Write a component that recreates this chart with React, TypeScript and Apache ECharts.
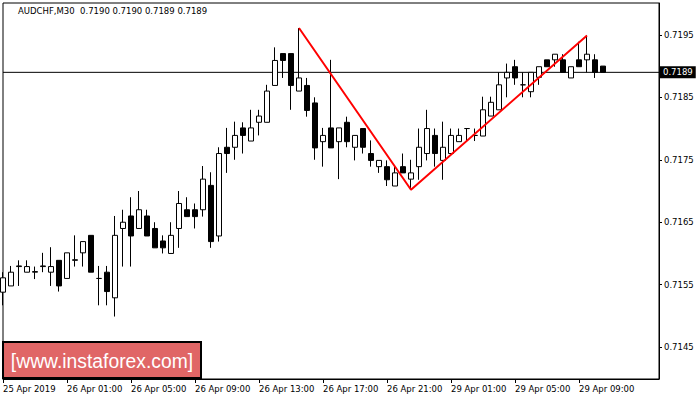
import React, { useEffect, useRef } from 'react';
import * as echarts from 'echarts';

const titleText = 'AUDCHF,M30  0.7190 0.7190 0.7189 0.7189';
const logoText = '[www.instaforex.com]';

const tickLabels = [
  '25 Apr 2019',
  '26 Apr 01:00',
  '26 Apr 05:00',
  '26 Apr 09:00',
  '26 Apr 13:00',
  '26 Apr 17:00',
  '26 Apr 21:00',
  '29 Apr 01:00',
  '29 Apr 05:00',
  '29 Apr 09:00',
];
const barsPerTick = 8;
const totalSlots = 83;

// [open, close, low, high]
const candles: number[][] = [
  [0.71538, 0.71561, 0.71517, 0.7157],
  [0.71548, 0.7157, 0.71548, 0.7158],
  [0.71579, 0.7158, 0.71548, 0.71589],
  [0.7157, 0.71579, 0.7157, 0.71589],
  [0.7157, 0.71571, 0.71559, 0.71579],
  [0.71579, 0.7158, 0.7157, 0.71601],
  [0.7157, 0.71579, 0.71548, 0.7161],
  [0.71589, 0.71548, 0.71539, 0.71589],
  [0.7156, 0.71601, 0.7156, 0.71601],
  [0.71589, 0.7159, 0.71579, 0.71629],
  [0.71601, 0.71619, 0.71579, 0.71619],
  [0.71629, 0.7157, 0.7157, 0.71629],
  [0.7156, 0.7156, 0.71517, 0.7158],
  [0.7157, 0.71539, 0.71517, 0.7158],
  [0.71529, 0.71629, 0.71499, 0.7166],
  [0.7164, 0.7165, 0.71579, 0.7167],
  [0.7166, 0.71628, 0.71579, 0.7169],
  [0.7164, 0.7167, 0.7164, 0.717],
  [0.7166, 0.71628, 0.71628, 0.7167],
  [0.7164, 0.71609, 0.71609, 0.7165],
  [0.7162, 0.71609, 0.716, 0.71629],
  [0.716, 0.71629, 0.716, 0.7165],
  [0.7164, 0.7168, 0.71609, 0.717],
  [0.7167, 0.71659, 0.71659, 0.7169],
  [0.7167, 0.71659, 0.7164, 0.7168],
  [0.7167, 0.71719, 0.71659, 0.7174],
  [0.71709, 0.71619, 0.71609, 0.7173],
  [0.71628, 0.7176, 0.71619, 0.7177],
  [0.7177, 0.7176, 0.71729, 0.71801],
  [0.7177, 0.71789, 0.7175, 0.71811],
  [0.71801, 0.71789, 0.7176, 0.7181],
  [0.7178, 0.71801, 0.7178, 0.7183],
  [0.7181, 0.7182, 0.71789, 0.7183],
  [0.7181, 0.7186, 0.7181, 0.7187],
  [0.71869, 0.71909, 0.71869, 0.7193],
  [0.7192, 0.71909, 0.71881, 0.7192],
  [0.7192, 0.71869, 0.7183, 0.7192],
  [0.7186, 0.71881, 0.7186, 0.71961],
  [0.71869, 0.71829, 0.71819, 0.71881],
  [0.71841, 0.71769, 0.7175, 0.7185],
  [0.71779, 0.71789, 0.71739, 0.71801],
  [0.71801, 0.71769, 0.71769, 0.7191],
  [0.71779, 0.71801, 0.71719, 0.71801],
  [0.7181, 0.71779, 0.7177, 0.71819],
  [0.7177, 0.71789, 0.71749, 0.71789],
  [0.718, 0.7177, 0.7176, 0.718],
  [0.7176, 0.71749, 0.71739, 0.71781],
  [0.71739, 0.71749, 0.71729, 0.71749],
  [0.71739, 0.71718, 0.71708, 0.71749],
  [0.71708, 0.71729, 0.71708, 0.71739],
  [0.71739, 0.71729, 0.71729, 0.7176],
  [0.71719, 0.71729, 0.71702, 0.7175],
  [0.71739, 0.7177, 0.71718, 0.718],
  [0.7176, 0.718, 0.71749, 0.7183],
  [0.71789, 0.7176, 0.71739, 0.718],
  [0.71749, 0.7177, 0.71718, 0.71811],
  [0.7176, 0.71789, 0.7176, 0.718],
  [0.71779, 0.71789, 0.71779, 0.718],
  [0.718, 0.718, 0.7178, 0.718],
  [0.71789, 0.71789, 0.7178, 0.718],
  [0.71788, 0.7183, 0.71788, 0.71851],
  [0.7182, 0.71842, 0.7182, 0.71851],
  [0.7183, 0.7187, 0.7183, 0.7189],
  [0.71881, 0.7189, 0.7185, 0.71904],
  [0.71899, 0.71881, 0.7187, 0.7191],
  [0.7187, 0.7187, 0.7185, 0.7189],
  [0.71859, 0.7189, 0.7185, 0.7189],
  [0.71882, 0.71899, 0.7187, 0.71899],
  [0.7191, 0.71899, 0.71899, 0.7191],
  [0.7191, 0.71919, 0.71899, 0.71919],
  [0.7191, 0.7189, 0.7189, 0.71919],
  [0.71881, 0.71899, 0.71881, 0.71899],
  [0.7191, 0.71899, 0.71899, 0.71939],
  [0.7191, 0.71919, 0.7189, 0.71949],
  [0.7191, 0.7189, 0.71881, 0.71919],
  [0.719, 0.7189, 0.7189, 0.719],
];

const patternIdx = [37, 51, 73];
const patternPrice = [0.71961, 0.71702, 0.71949];
const lastPrice = 0.7189;
const priceTicks = [0.7145, 0.7155, 0.7165, 0.7175, 0.7185, 0.7195];
const yMin = 0.71399;
const yMax = 0.72001;

export default function App() {
  const ref = useRef<HTMLDivElement>(null);
  useEffect(() => {
    if (!ref.current) return;
    const chart = echarts.init(ref.current, null, { renderer: 'svg' });
    const categories = Array.from({ length: totalSlots }, (_, i) =>
      i % barsPerTick === 0 && i / barsPerTick < tickLabels.length ? tickLabels[i / barsPerTick] : ''
    );
    const font = 'DejaVu Sans';
    const fs = 8.5;
    chart.setOption({
      animation: false,
      backgroundColor: '#ffffff',
      grid: {
        left: 3,
        top: 3,
        width: 656,
        height: 376,
        show: true,
        borderColor: '#000',
        borderWidth: 1,
        backgroundColor: 'transparent',
      },
      xAxis: {
        type: 'category',
        data: categories,
        boundaryGap: false,
        axisLine: { show: true, lineStyle: { color: '#000', width: 1 } },
        axisTick: {
          show: true,
          length: 4,
          lineStyle: { color: '#000' },
          interval: (_i: number, v: string) => v !== '',
        },
        axisLabel: {
          show: true,
          interval: (_i: number, v: string) => v !== '',
          align: 'left',
          color: '#000',
          fontFamily: font,
          fontSize: fs,
          margin: 5,
        },
        splitLine: { show: false },
      },
      yAxis: {
        type: 'value',
        position: 'right',
        min: yMin,
        max: yMax,
        axisLine: { show: true, lineStyle: { color: '#000', width: 1 } },
        axisTick: { show: true, length: 3, customValues: priceTicks, lineStyle: { color: '#000' } },
        axisLabel: {
          customValues: priceTicks,
          formatter: (v: number) => v.toFixed(4),
          color: '#000',
          fontFamily: font,
          fontSize: fs,
          margin: 5,
        },
        splitLine: { show: false },
      },
      graphic: [
        {
          type: 'text',
          x: 18,
          y: 11,
          style: {
            text: titleText,
            fill: '#000',
            fontFamily: font,
            fontSize: fs,
            align: 'left',
            verticalAlign: 'middle',
          },
          z: 100,
        },
        {
          type: 'rect',
          shape: { x: 3, y: 342, width: 198, height: 36 },
          style: { fill: '#e06666', stroke: '#000', lineWidth: 2 },
          z: 100,
        },
        {
          type: 'text',
          x: 102,
          y: 361,
          scaleX: 0.92,
          style: {
            text: logoText,
            fill: '#fff',
            fontFamily: 'Liberation Sans',
            fontSize: 21,
            align: 'center',
            verticalAlign: 'middle',
          },
          z: 101,
        },
      ],
      series: [
        {
          type: 'line',
          data: [
            [0, lastPrice],
            [totalSlots - 1, lastPrice],
          ],
          symbol: 'none',
          silent: true,
          clip: false,
          lineStyle: { color: '#000', width: 1 },
          z: 2,
          endLabel: {
            show: true,
            distance: 1,
            formatter: () => lastPrice.toFixed(4),
            backgroundColor: '#000',
            color: '#fff',
            fontFamily: font,
            fontSize: fs,
            padding: [2, 3, 1, 3],
          },
        },
        {
          type: 'candlestick',
          data: candles,
          barWidth: 5,
          clip: true,
          itemStyle: {
            color: '#fff',
            color0: '#000',
            borderColor: '#000',
            borderColor0: '#000',
            borderColorDoji: '#000',
            borderWidth: 1,
          },
          z: 3,
        },
        {
          type: 'line',
          data: patternIdx.map((i, k) => [i, patternPrice[k]]),
          symbol: 'none',
          silent: true,
          lineStyle: { color: '#ff0000', width: 2 },
          z: 5,
        },
      ],
    });
    return () => chart.dispose();
  }, []);
  return (
    <div
      ref={ref}
      style={{ position: 'absolute', left: 0, top: 0, width: 700, height: 400 }}
    />
  );
}
